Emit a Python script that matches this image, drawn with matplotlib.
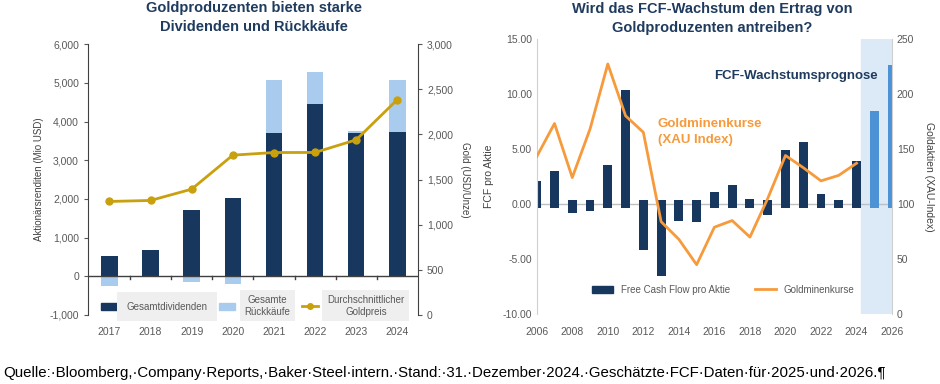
import matplotlib
matplotlib.use("Agg")
import numpy as np
import matplotlib.pyplot as plt
from matplotlib.patches import Patch
from matplotlib.lines import Line2D

# left chart data
years_left = ["2017", "2018", "2019", "2020", "2021", "2022", "2023", "2024"]
dividends = [530, 680, 1700, 2030, 3700, 4440, 3700, 3730]
buybacks = [-260, 0, -150, -190, 1370, 850, 60, 1340]
gold_price = [1257, 1268, 1393, 1770, 1799, 1800, 1940, 2386]

# right chart data
years_right = list(range(2006, 2027))
fcf = [2.1, 3.0, -0.85, -0.6, 3.5, 10.3, -4.2, -6.5, -1.5, -1.6, 1.1, 1.7, 0.5,
       -1.0, 4.9, 5.6, 0.9, 0.4, 3.9, 8.4, 12.6]
forecast_years = [2025, 2026]
xau_years = list(range(2006, 2025))
xau = [143, 173, 124, 168, 227, 180, 165, 84, 68, 45, 79, 85, 70, 105, 144,
       133, 121, 126, 137]

NAVY = "#17375E"
LIGHT = "#A9CCEE"
GOLD = "#C9A00E"
ORANGE = "#F79A3B"
FBLUE = "#4E92D6"
SHADE = "#DCE9F6"
GREY = "#595959"
TITLE = "#1F3B5E"

plt.rcParams["font.family"] = ["Liberation Sans", "DejaVu Sans"]
plt.rcParams["font.size"] = 7

fig = plt.figure(figsize=(9.4, 3.84), dpi=100)

# ---------- left chart ----------
ax1 = fig.add_axes([0.0936, 0.180, 0.351, 0.705])
x = np.arange(len(years_left))
ax1.bar(x, dividends, width=0.4, color=NAVY, zorder=2)
pos = [b if b > 0 else 0 for b in buybacks]
neg = [b if b < 0 else 0 for b in buybacks]
ax1.bar(x, pos, width=0.4, bottom=dividends, color=LIGHT, zorder=2)
ax1.bar(x, neg, width=0.4, color=LIGHT, zorder=2)
ax1.set_ylim(-1000, 6000)
ax1.set_xlim(-0.52, 7.5)
ax1.set_yticks(range(-1000, 6001, 1000))
ax1.set_yticklabels([f"{v:,}" for v in range(-1000, 6001, 1000)])
ax1.set_xticks(x)
ax1.set_xticklabels(years_left)
ax1.tick_params(axis="x", length=0, colors=GREY, labelsize=7.5, pad=9)
ax1.tick_params(axis="y", length=3, colors=GREY, labelsize=7.5)
ax1.axhline(0, color="#404040", lw=1, zorder=3)
for b in x[:-1] + 0.5:
    ax1.plot([b, b], [0, -70], color="#404040", lw=1, zorder=3)
for s in ["top", "bottom"]:
    ax1.spines[s].set_visible(False)
ax1.spines["left"].set_color("#404040")
ax1.spines["right"].set_visible(False)
ax1.set_ylabel("Aktionärsrenditen (Mio USD)", color="#404040", fontsize=7, labelpad=4)

ax1b = ax1.twinx()
ax1b.plot(x, gold_price, color=GOLD, lw=2, marker="o", ms=5, zorder=4)
ax1b.set_ylim(0, 3000)
ax1b.set_yticks(range(0, 3001, 500))
ax1b.set_yticklabels([f"{v:,}" for v in range(0, 3001, 500)])
ax1b.tick_params(axis="y", length=3, colors=GREY, labelsize=7.5)
for s in ["top", "bottom", "left"]:
    ax1b.spines[s].set_visible(False)
ax1b.spines["right"].set_color("#404040")
ax1b.set_ylabel("Gold (USD/Unze)", color="#404040", fontsize=7, rotation=-90, labelpad=12)

handles = [Patch(color=NAVY), Patch(color=LIGHT),
           Line2D([], [], color=GOLD, lw=2, marker="o", ms=4)]
labels = ["Gesamtdividenden", "Gesamte\nRückkäufe", "Durchschnittlicher\nGoldpreis"]
leg = ax1b.legend(handles, labels, ncol=3, loc="lower center", bbox_to_anchor=(0.5, -0.035),
                  frameon=False, fontsize=7, handlelength=1.6, handletextpad=1.0,
                  columnspacing=1.2, borderaxespad=0.4)
for t in leg.get_texts():
    t.set_color(GREY)
    t.set_multialignment("center")
    p = 3.5 if "\n" in t.get_text() else 7
    t.set_bbox(dict(facecolor="#EFEFEF", edgecolor="none", pad=p))

fig.text(0.270, 0.955, "Goldproduzenten bieten starke\nDividenden und Rückkäufe",
         ha="center", va="center", fontsize=10.5, fontweight="bold", color=TITLE,
         linespacing=1.45)

# ---------- right chart ----------
ax2 = fig.add_axes([0.571, 0.1815, 0.378, 0.718])
ax2.axvspan(2024.25, 2026, color=SHADE, zorder=0)
colors = [FBLUE if y in forecast_years else NAVY for y in years_right]
ext = 0.35
heights = [v + ext if v > 0 else v - ext for v in fcf]
bottoms = [-ext if v > 0 else ext for v in fcf]
ax2.bar(years_right, heights, bottom=bottoms, width=0.5, color=colors, zorder=2)
ax2.axhline(0, color="#BFBFBF", lw=1, zorder=1)
ax2.set_xlim(2006, 2026)
ax2.set_ylim(-10, 15)
ax2.set_yticks(range(-10, 16, 5))
ax2.set_yticklabels([f"{v:.2f}" for v in range(-10, 16, 5)])
ax2.set_xticks(range(2006, 2027, 2))
ax2.tick_params(axis="both", length=0, colors=GREY, labelsize=7.5)
ax2.tick_params(axis="x", pad=9)
for s in ["top", "bottom"]:
    ax2.spines[s].set_visible(False)
ax2.spines["left"].set_color("#D0D0D0")
ax2.spines["right"].set_color("#D0D0D0")
ax2.set_ylabel("FCF pro Aktie", color="#404040", fontsize=7.5, labelpad=6)

ax2b = ax2.twinx()
ax2b.plot(xau_years, xau, color=ORANGE, lw=2, zorder=3)
ax2b.set_ylim(0, 250)
ax2b.set_yticks(range(0, 251, 50))
ax2b.tick_params(axis="y", length=0, colors=GREY, labelsize=7.5)
for s in ["top", "bottom", "left", "right"]:
    ax2b.spines[s].set_visible(False)
ax2b.set_ylabel("Goldaktien (XAU-Index)", color="#404040", fontsize=7.5,
                rotation=-90, labelpad=14)

leg2 = ax2.legend([Patch(color=NAVY), Line2D([], [], color=ORANGE, lw=2)],
                  ["Free Cash Flow pro Aktie", "Goldminenkurse"], ncol=2,
                  loc="lower center", bbox_to_anchor=(0.525, 0.04), frameon=False,
                  fontsize=7, handlelength=2.2, columnspacing=2.5)
for t in leg2.get_texts():
    t.set_color(GREY)

ax2.text(0.73, 0.865, "FCF-Wachstumsprognose", transform=ax2.transAxes,
         ha="center", va="center", fontsize=9.5, fontweight="bold", color=TITLE)
ax2.text(0.34, 0.66, "Goldminenkurse\n(XAU Index)", transform=ax2.transAxes,
         ha="left", va="center", fontsize=9.5, fontweight="bold", color=ORANGE,
         linespacing=1.45)

fig.text(0.758, 0.952, "Wird das FCF-Wachstum den Ertrag von\nGoldproduzenten antreiben?",
         ha="center", va="center", fontsize=10.5, fontweight="bold", color=TITLE,
         linespacing=1.45)

fig.text(0.003, 0.029,
         "Quelle:\u00b7Bloomberg,\u00b7Company\u00b7Reports,\u00b7Baker\u00b7Steel\u00b7intern.\u00b7"
         "Stand:\u00b731.\u00b7Dezember\u00b72024.\u00b7Geschätzte\u00b7FCF\u00b7Daten\u00b7für\u00b7"
         "2025\u00b7und\u00b72026.\u00b6",
         fontsize=10.8, color="black", ha="left", va="center")

fig.savefig("out.png", dpi=100)
